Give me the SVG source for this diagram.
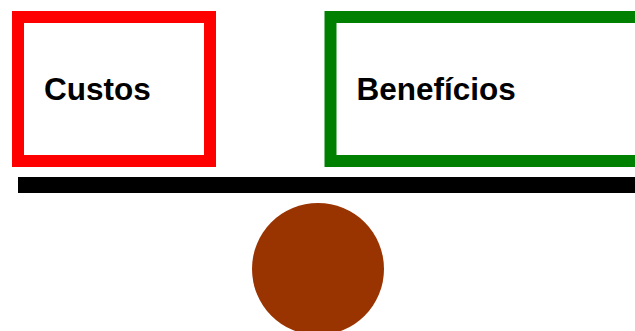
<svg xmlns="http://www.w3.org/2000/svg" width="635" height="331" viewBox="0 0 635 331">
<style>
.lbl{font-family:"Liberation Sans",Arial,sans-serif;font-weight:bold;font-size:31.5px;fill:#000}
.box{fill:#fff;stroke-width:12}
</style>
<rect width="635" height="331" fill="#fff"/>
<g id="custos">
<rect class="box" x="18" y="17" width="192" height="144" stroke="#ff0000"/>
<text class="lbl" x="44" y="100">Custos</text>
</g>
<g id="beneficios">
<rect class="box" x="330.5" y="17" width="330" height="144" stroke="#008000"/>
<text class="lbl" x="356.5" y="100">Benefícios</text>
</g>
<g id="beam">
<rect x="18" y="177" width="630" height="16" fill="#000"/>
</g>
<g id="fulcrum">
<circle cx="318" cy="269" r="66" fill="#993300"/>
</g>
<g id="connectors"/>
</svg>
